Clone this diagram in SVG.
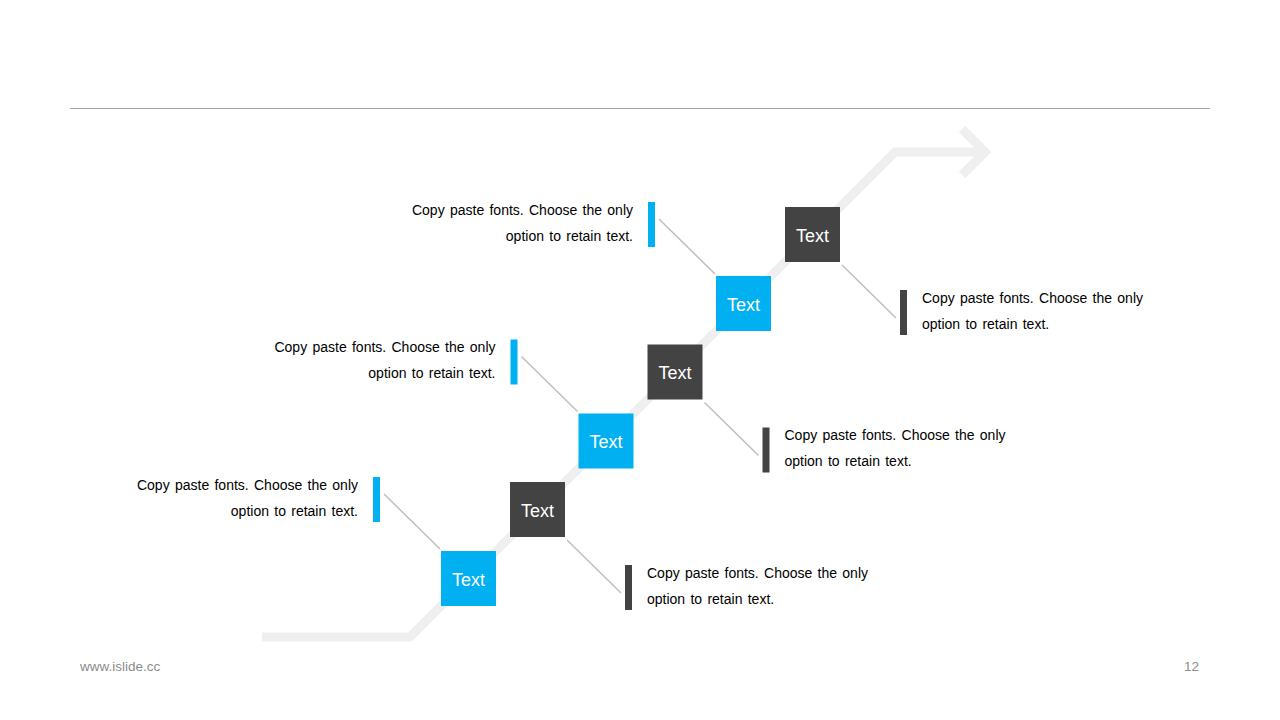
<svg xmlns="http://www.w3.org/2000/svg" width="1280" height="720" viewBox="0 0 1280 720">
<style>
.bg{fill:#ffffff}
.rule{stroke:#a6a6a6;stroke-width:1}
.arrow{fill:none;stroke:#efefef;stroke-width:9;stroke-linejoin:miter}
.conn{stroke:#bfbfbf;stroke-width:1.5}
.blue{fill:#00b0f0}
.dark{fill:#434343}
.boxt{font-family:"Liberation Sans",Arial,sans-serif;font-size:18px;fill:#ffffff;text-anchor:middle}
.desc{font-family:"Liberation Sans",Arial,sans-serif;font-size:14px;fill:#000000;word-spacing:1.4px}
.l{text-anchor:end}
.foot{font-family:"Liberation Sans",Arial,sans-serif;font-size:13.5px;fill:#8c8c8c}
</style>
<rect class="bg" x="0" y="0" width="1280" height="720"/>
<line class="rule" x1="70" y1="108.5" x2="1210" y2="108.5"/>
<g id="arrow">
<polyline class="arrow" points="262,637 410,637 895,152 985,152"/>
<polyline class="arrow" points="962,129 985,152 962,175"/>
</g>
<g id="connectors">
<line class="conn" x1="384" y1="494" x2="440" y2="549"/>
<line class="conn" x1="521.5" y1="356.5" x2="577.5" y2="411.5"/>
<line class="conn" x1="659" y1="219" x2="715" y2="274"/>
<line class="conn" x1="567" y1="540" x2="621" y2="593"/>
<line class="conn" x1="704.5" y1="402.5" x2="758.5" y2="455.5"/>
<line class="conn" x1="842" y1="265" x2="896" y2="318"/>
</g>
<g id="node-b1"><rect class="blue" x="441" y="551" width="55" height="55"/><text class="boxt" x="468.5" y="585.5">Text</text></g>
<g id="node-d1"><rect class="dark" x="510" y="482" width="55" height="55"/><text class="boxt" x="537.5" y="516.5">Text</text></g>
<g id="node-b2"><rect class="blue" x="578.5" y="413.5" width="55" height="55"/><text class="boxt" x="606" y="448">Text</text></g>
<g id="node-d2"><rect class="dark" x="647.5" y="344.5" width="55" height="55"/><text class="boxt" x="675" y="379">Text</text></g>
<g id="node-b3"><rect class="blue" x="716" y="276" width="55" height="55"/><text class="boxt" x="743.5" y="310.5">Text</text></g>
<g id="node-d3"><rect class="dark" x="785" y="207" width="55" height="55"/><text class="boxt" x="812.5" y="241.5">Text</text></g>
<g id="note-l1"><rect class="blue" x="373" y="477" width="7" height="45"/><text class="desc l" x="358" y="489.5">Copy paste fonts. Choose the only</text><text class="desc l" x="358" y="515.5">option to retain text.</text></g>
<g id="note-l2"><rect class="blue" x="510.5" y="339.5" width="7" height="45"/><text class="desc l" x="495.5" y="352">Copy paste fonts. Choose the only</text><text class="desc l" x="495.5" y="378">option to retain text.</text></g>
<g id="note-l3"><rect class="blue" x="648" y="202" width="7" height="45"/><text class="desc l" x="633" y="214.5">Copy paste fonts. Choose the only</text><text class="desc l" x="633" y="240.5">option to retain text.</text></g>
<g id="note-r1"><rect class="dark" x="625" y="565" width="7" height="45"/><text class="desc" x="647" y="577.5">Copy paste fonts. Choose the only</text><text class="desc" x="647" y="603.5">option to retain text.</text></g>
<g id="note-r2"><rect class="dark" x="762.5" y="427.5" width="7" height="45"/><text class="desc" x="784.5" y="440">Copy paste fonts. Choose the only</text><text class="desc" x="784.5" y="466">option to retain text.</text></g>
<g id="note-r3"><rect class="dark" x="900" y="290" width="7" height="45"/><text class="desc" x="922" y="302.5">Copy paste fonts. Choose the only</text><text class="desc" x="922" y="328.5">option to retain text.</text></g>
<text class="foot" x="80" y="670.5">www.islide.cc</text>
<text class="foot" x="1199" y="670.5" text-anchor="end">12</text>
</svg>
